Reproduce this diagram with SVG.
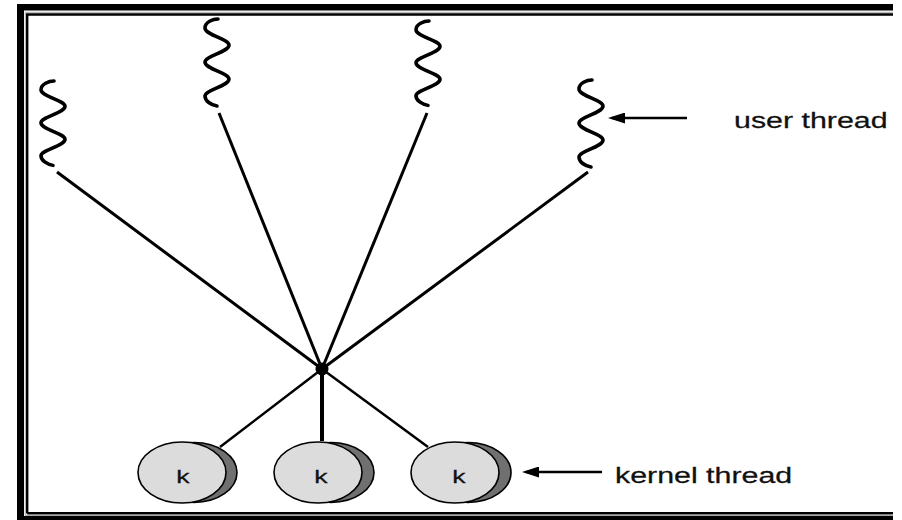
<svg xmlns="http://www.w3.org/2000/svg" width="902" height="520" viewBox="0 0 902 520">
  <style>
    .wire { stroke: #000; stroke-width: 3; fill: none; stroke-linecap: butt; }
    .wire-thin { stroke: #000; stroke-width: 2.5; fill: none; }
    .squiggle { stroke: #000; stroke-width: 3.6; fill: none; stroke-linecap: round; stroke-linejoin: round; }
    .pointer { stroke: #000; stroke-width: 2.5; fill: none; marker-end: url(#head); }
    .disc { fill: #dcdcdc; stroke: #000; stroke-width: 1.6; }
    .disc-back { fill: #707070; stroke: #000; stroke-width: 1.6; }
    .lbl { font-family: "Liberation Sans", Arial, sans-serif; fill: #111; stroke: #111; stroke-width: 0.25; }
  </style>
  <defs>
    <!-- one user thread: a vertical wavy stroke, origin at its top -->
    <path id="wave" d="M 1 0 C -4 0, -12 3, -12 9 C -12 16, 12 20, 12 26 C 12 33, -12 37, -12 43 C -12 50, 12 54, 12 60 C 12 67, -12 71, -12 77 C -12 82, -6 86, 0 87"/>
    <marker id="head" markerUnits="userSpaceOnUse" markerWidth="17" markerHeight="11" viewBox="0 0 17 11" refX="13" refY="5.5" orient="auto">
      <path d="M0 0 L17 5.5 L0 11 Z" fill="#000"/>
    </marker>
  </defs>

  <rect width="902" height="520" fill="#fff"/>

  <!-- double frame -->
  <g id="frame">
    <path d="M17 4 H893 V10.5 H24 V516 H893 V520 H17 Z" fill="#000"/>
    <path d="M25.3 515.5 V12.3 H893 M25.3 515.5 H893" stroke="#a8a8a8" stroke-width="1" fill="none"/>
    <path d="M27.2 513.5 V14.5 H893 M27.2 513.3 H893" stroke="#000" stroke-width="2.4" fill="none"/>
  </g>

  <!-- connectors -->
  <g id="connectors">
    <line class="wire" x1="57" y1="172" x2="322" y2="369"/>
    <line class="wire" x1="219" y1="113" x2="322" y2="369"/>
    <line class="wire" x1="427" y1="113" x2="322" y2="369"/>
    <line class="wire" x1="588" y1="172" x2="322" y2="369"/>
    <line class="wire-thin" x1="322" y1="369" x2="220" y2="447"/>
    <line class="wire-thin" x1="322" y1="369" x2="428" y2="447"/>
    <line stroke="#000" stroke-width="4" x1="322" y1="369" x2="322" y2="441"/>
    <line class="pointer" x1="687" y1="118" x2="612" y2="118"/>
    <line class="pointer" x1="602" y1="472" x2="526" y2="472"/>
  </g>

  <!-- hub where the user threads meet -->
  <g id="hub">
    <circle cx="322" cy="369" r="6.5" fill="#000"/>
  </g>

  <!-- user threads -->
  <g id="user-thread-1"><use href="#wave" class="squiggle" transform="translate(53,81) scale(1,0.97)"/></g>
  <g id="user-thread-2"><use href="#wave" class="squiggle" transform="translate(217,19)"/></g>
  <g id="user-thread-3"><use href="#wave" class="squiggle" transform="translate(428,21) scale(1,0.97)"/></g>
  <g id="user-thread-4"><use href="#wave" class="squiggle" transform="translate(591,80)"/></g>

  <!-- kernel threads -->
  <g id="kernel-thread-1">
    <ellipse class="disc-back" cx="194" cy="472.5" rx="43" ry="30"/>
    <ellipse class="disc" cx="182" cy="472.5" rx="44" ry="30.5"/>
    <text class="lbl" font-size="19" text-anchor="middle" transform="translate(183,483) scale(1.4,1)">k</text>
  </g>
  <g id="kernel-thread-2">
    <ellipse class="disc-back" cx="331" cy="472.5" rx="43" ry="30"/>
    <ellipse class="disc" cx="318" cy="472.5" rx="44" ry="30.5"/>
    <text class="lbl" font-size="19" text-anchor="middle" transform="translate(321,483) scale(1.4,1)">k</text>
  </g>
  <g id="kernel-thread-3">
    <ellipse class="disc-back" cx="468" cy="472.5" rx="43" ry="30"/>
    <ellipse class="disc" cx="455" cy="472.5" rx="44" ry="30.5"/>
    <text class="lbl" font-size="19" text-anchor="middle" transform="translate(459,483) scale(1.4,1)">k</text>
  </g>

  <!-- legend labels -->
  <g id="label-user-thread">
    <text class="lbl" font-size="22" transform="translate(734,128) scale(1.38,1)">user thread</text>
  </g>
  <g id="label-kernel-thread">
    <text class="lbl" font-size="22" transform="translate(615,483) scale(1.38,1)">kernel thread</text>
  </g>
</svg>
